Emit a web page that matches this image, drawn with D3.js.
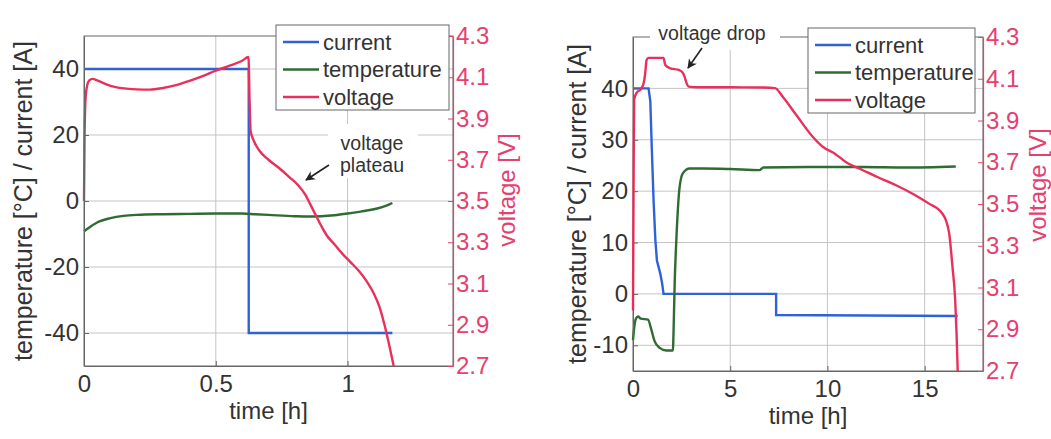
<!DOCTYPE html>
<html>
<head>
<meta charset="utf-8">
<script src="https://cdn.jsdelivr.net/npm/d3@7"></script>
<style>
  body { margin: 0; background: #fff; }
  text { font-family: "Liberation Sans", Arial, Helvetica, sans-serif; }
</style>
</head>
<body>
<svg id="chart" width="1051" height="439"></svg>
<script>
// ---- Shared ----
const seriesNames = ["current", "temperature", "voltage"];
const voltageTicks = [2.7, 2.9, 3.1, 3.3, 3.5, 3.7, 3.9, 4.1, 4.3];

// ---- Left panel: charge / discharge cycle, time in hours ----
const cycleTimeTicks = [0, 0.5, 1];
const cycleLeftTicks = [-40, -20, 0, 20, 40];
const cycleCurrent = [[0, 40], [0.625, 40], [0.625, -40], [1.17, -40]];
const cycleTemperature = [
  [0, -9.2], [0.02, -8.0], [0.05, -6.5], [0.1, -5.2], [0.15, -4.5], [0.2, -4.2],
  [0.3, -4.0], [0.4, -3.9], [0.5, -3.8], [0.6, -3.8], [0.65, -4.0], [0.7, -4.2],
  [0.8, -4.6], [0.85, -4.7], [0.9, -4.6], [0.95, -4.3], [1.0, -3.8], [1.05, -3.2],
  [1.1, -2.5], [1.15, -1.3], [1.17, -0.6]
];
const cycleVoltage = [
  [0, 3.50], [0.002, 3.80], [0.006, 4.00], [0.012, 4.06], [0.02, 4.085], [0.032, 4.092],
  [0.05, 4.085], [0.08, 4.068], [0.12, 4.052], [0.16, 4.045], [0.2, 4.041], [0.25, 4.040],
  [0.3, 4.048], [0.35, 4.062], [0.4, 4.082], [0.45, 4.105], [0.5, 4.132], [0.55, 4.155],
  [0.6, 4.18], [0.624, 4.198], [0.628, 4.0], [0.632, 3.84], [0.645, 3.79], [0.665, 3.745],
  [0.7, 3.70], [0.74, 3.66], [0.78, 3.615], [0.81, 3.58], [0.84, 3.53], [0.86, 3.48],
  [0.88, 3.43], [0.9, 3.38], [0.92, 3.335], [0.95, 3.29], [0.98, 3.245], [1.01, 3.205],
  [1.04, 3.165], [1.07, 3.115], [1.1, 3.05], [1.12, 2.99], [1.14, 2.9], [1.16, 2.79],
  [1.175, 2.7]
];

// ---- Right panel: long run with rest phase, time in hours ----
const longTimeTicks = [0, 5, 10, 15];
const longLeftTicks = [-10, 0, 10, 20, 30, 40];
const longCurrent = [
  [0, 40], [0.8, 40], [0.89, 37.5], [0.97, 28], [1.06, 18], [1.15, 10.5], [1.23, 6.5],
  [1.4, 4], [1.5, 2], [1.57, 0], [7.36, 0], [7.36, -4.1], [16.7, -4.3]
];
const longTemperature = [
  [0, -9], [0.08, -6], [0.15, -4.8], [0.26, -4.4], [0.4, -4.8], [0.77, -5], [0.94, -6.9],
  [1.11, -9.2], [1.37, -10.5], [1.71, -11], [2.05, -11], [2.1, -5], [2.14, 1.6],
  [2.23, 10.6], [2.4, 20.9], [2.57, 23.5], [2.91, 24.4], [3.6, 24.4], [5, 24.3],
  [6.5, 24.1], [6.7, 24.6], [9, 24.7], [11.8, 24.7], [14, 24.6], [16.6, 24.8]
];
const longVoltage = [
  [0, 2.99], [0.03, 3.6], [0.06, 4.0], [0.17, 4.03], [0.43, 4.054], [0.55, 4.08],
  [0.62, 4.12], [0.7, 4.19], [0.8, 4.2], [1.57, 4.2], [1.66, 4.166], [1.92, 4.15],
  [2.35, 4.142], [2.55, 4.13], [2.65, 4.11], [2.75, 4.08], [2.87, 4.062], [3.3, 4.059],
  [5.0, 4.059], [6.7, 4.058], [7.3, 4.055], [7.7, 4.014], [8.4, 3.926], [9.24, 3.822],
  [9.76, 3.774], [10.4, 3.74], [10.96, 3.70], [11.8, 3.663], [12.6, 3.628], [13.5, 3.591],
  [14.4, 3.548], [15.2, 3.503], [15.9, 3.455], [16.1, 3.42], [16.26, 3.36], [16.43, 3.2],
  [16.57, 3.04], [16.64, 2.88], [16.7, 2.7]
];

const colors = { current: "#2f62d6", temperature: "#2f6b33", voltage: "#e8305c" };
const voltAxisColor = "#e5406e";
const inkColor = "#333";
const gridColor = "#c4c4c4";
const frameColor = "#666";

const svg = d3.select("#chart");
svg.append("rect").attr("width", 1051).attr("height", 439).attr("fill", "#fff");

// plain hyphen-minus for negative tick labels
const plainNumber = d => String(d);

function drawPanel(p) {
  const g = svg.append("g");
  const x = d3.scaleLinear().domain(p.xDomain).range([p.left, p.right]);
  const yL = d3.scaleLinear().domain(p.yDomain).range([p.bottom, p.top]);
  const yR = d3.scaleLinear().domain([2.7, 4.3]).range([p.bottom, p.top]);

  // grid
  g.append("g").selectAll("line")
    .data(p.xTicks.filter(t => t > p.xDomain[0]))
    .join("line")
    .attr("x1", d => x(d)).attr("x2", d => x(d))
    .attr("y1", p.top).attr("y2", p.bottom)
    .attr("stroke", gridColor).attr("stroke-width", 1);
  g.append("g").selectAll("line")
    .data(p.yTicks)
    .join("line")
    .attr("x1", p.left).attr("x2", p.right)
    .attr("y1", d => yL(d)).attr("y2", d => yL(d))
    .attr("stroke", gridColor).attr("stroke-width", 1);

  // annotation backgrounds hide grid behind the labels
  const ann = p.annotation;
  g.append("rect")
    .attr("x", ann.box[0]).attr("y", ann.box[1])
    .attr("width", ann.box[2]).attr("height", ann.box[3])
    .attr("fill", "#fff");

  // frame
  g.append("rect")
    .attr("x", p.left).attr("y", p.top)
    .attr("width", p.right - p.left).attr("height", p.bottom - p.top)
    .attr("fill", "none").attr("stroke", frameColor).attr("stroke-width", 1);

  // white gap in the top frame for the annotation when it sits on it
  if (ann.coverFrame) {
    g.append("rect")
      .attr("x", ann.box[0]).attr("y", ann.box[1])
      .attr("width", ann.box[2]).attr("height", ann.box[3])
      .attr("fill", "#fff");
  }

  const lineL = d3.line().x(d => x(d[0])).y(d => yL(d[1]));
  const lineR = d3.line().x(d => x(d[0])).y(d => yR(d[1]));
  g.append("path").datum(p.current).attr("d", lineL)
    .attr("fill", "none").attr("stroke", colors.current).attr("stroke-width", 2.4);
  g.append("path").datum(p.temperature).attr("d", lineL.curve(d3.curveMonotoneX))
    .attr("fill", "none").attr("stroke", colors.temperature).attr("stroke-width", 2.4);
  g.append("path").datum(p.voltage).attr("d", lineR.curve(d3.curveMonotoneX))
    .attr("fill", "none").attr("stroke", colors.voltage).attr("stroke-width", 2.4)
    .attr("stroke-linejoin", "round");

  // axes
  const axB = g.append("g").attr("transform", `translate(0,${p.bottom})`)
    .call(d3.axisBottom(x).tickValues(p.xTicks).tickSizeInner(-5).tickSizeOuter(0)
      .tickPadding(9).tickFormat(plainNumber));
  const axL = g.append("g").attr("transform", `translate(${p.left},0)`)
    .call(d3.axisLeft(yL).tickValues(p.yTicks).tickSizeInner(-5).tickSizeOuter(0)
      .tickPadding(5).tickFormat(plainNumber));
  const axR = g.append("g").attr("transform", `translate(${p.right},0)`)
    .call(d3.axisRight(yR).tickValues(voltageTicks).tickSizeInner(-5).tickSizeOuter(0)
      .tickPadding(3).tickFormat(d3.format(".1f")));
  [axB, axL].forEach(a => {
    a.attr("font-family", null).attr("font-size", 24);
    a.select(".domain").attr("stroke", frameColor);
    a.selectAll(".tick line").attr("stroke", frameColor);
    a.selectAll(".tick text").attr("fill", inkColor);
  });
  axR.attr("font-family", null).attr("font-size", 24);
  axR.select(".domain").attr("stroke", voltAxisColor).attr("stroke-width", 1.2);
  axR.selectAll(".tick line").attr("stroke", voltAxisColor);
  axR.selectAll(".tick text").attr("fill", voltAxisColor);

  // axis titles
  g.append("text")
    .attr("x", (p.left + p.right) / 2).attr("y", p.bottom + 53)
    .attr("text-anchor", "middle").attr("font-size", 24).attr("fill", inkColor)
    .text("time [h]");
  g.append("text")
    .attr("transform", `translate(${p.yLabelX},${(p.top + p.bottom) / 2}) rotate(-90)`)
    .attr("text-anchor", "middle").attr("dy", "0.35em")
    .attr("font-size", 25).attr("fill", inkColor)
    .text("temperature [°C] / current [A]");
  g.append("text")
    .attr("transform", `translate(${p.vLabelX},${p.vLabelY}) rotate(-90)`)
    .attr("text-anchor", "middle").attr("dy", "0.35em")
    .attr("font-size", 24).attr("fill", voltAxisColor)
    .text("voltage [V]");

  // annotation text and arrow
  ann.lines.forEach((t, i) => {
    g.append("text")
      .attr("x", ann.textX).attr("y", ann.textY + i * 22)
      .attr("text-anchor", "middle").attr("font-size", 19.5).attr("fill", inkColor)
      .text(t);
  });
  const [ax0, ay0, ax1, ay1] = ann.arrow;
  g.append("line")
    .attr("x1", ax0).attr("y1", ay0).attr("x2", ax1).attr("y2", ay1)
    .attr("stroke", "#222").attr("stroke-width", 1.6)
    .attr("marker-end", "url(#arrowhead)");

  // legend
  const lg = g.append("g").attr("transform", `translate(${p.legend[0]},${p.legend[1]})`);
  lg.append("rect").attr("width", p.legend[2]).attr("height", 85)
    .attr("fill", "#fff").attr("stroke", frameColor).attr("stroke-width", 1);
  seriesNames.forEach((name, i) => {
    const yy = 17 + i * 27.5;
    lg.append("line").attr("x1", 7).attr("x2", 43).attr("y1", yy).attr("y2", yy)
      .attr("stroke", colors[name]).attr("stroke-width", 2.4);
    lg.append("text").attr("x", 47).attr("y", yy).attr("dy", "0.35em")
      .attr("font-size", 22).attr("fill", inkColor).text(name);
  });
}

svg.append("defs").append("marker")
  .attr("id", "arrowhead").attr("viewBox", "0 0 10 10")
  .attr("refX", 9).attr("refY", 5)
  .attr("markerWidth", 6).attr("markerHeight", 6)
  .attr("orient", "auto")
  .append("path").attr("d", "M0,0 L10,5 L0,10 L3,5 Z").attr("fill", "#222");

drawPanel({
  left: 84, right: 453, top: 36, bottom: 366,
  xDomain: [0, 1.4], yDomain: [-50, 50],
  xTicks: cycleTimeTicks, yTicks: cycleLeftTicks,
  current: cycleCurrent, temperature: cycleTemperature, voltage: cycleVoltage,
  yLabelX: 23, vLabelX: 507, vLabelY: 190,
  legend: [276, 25, 173],
  annotation: {
    lines: ["voltage", "plateau"], textX: 372, textY: 150,
    box: [328, 124, 90, 54], coverFrame: false,
    arrow: [329, 165, 306, 180]
  }
});

drawPanel({
  left: 633, right: 983, top: 37, bottom: 371,
  xDomain: [0, 18], yDomain: [-15, 50],
  xTicks: longTimeTicks, yTicks: longLeftTicks,
  current: longCurrent, temperature: longTemperature, voltage: longVoltage,
  yLabelX: 577, vLabelX: 1038, vLabelY: 185,
  legend: [808, 28, 167],
  annotation: {
    lines: ["voltage drop"], textX: 712, textY: 40,
    box: [650, 18, 130, 32], coverFrame: true,
    arrow: [702, 48, 688, 68]
  }
});
</script>
</body>
</html>
